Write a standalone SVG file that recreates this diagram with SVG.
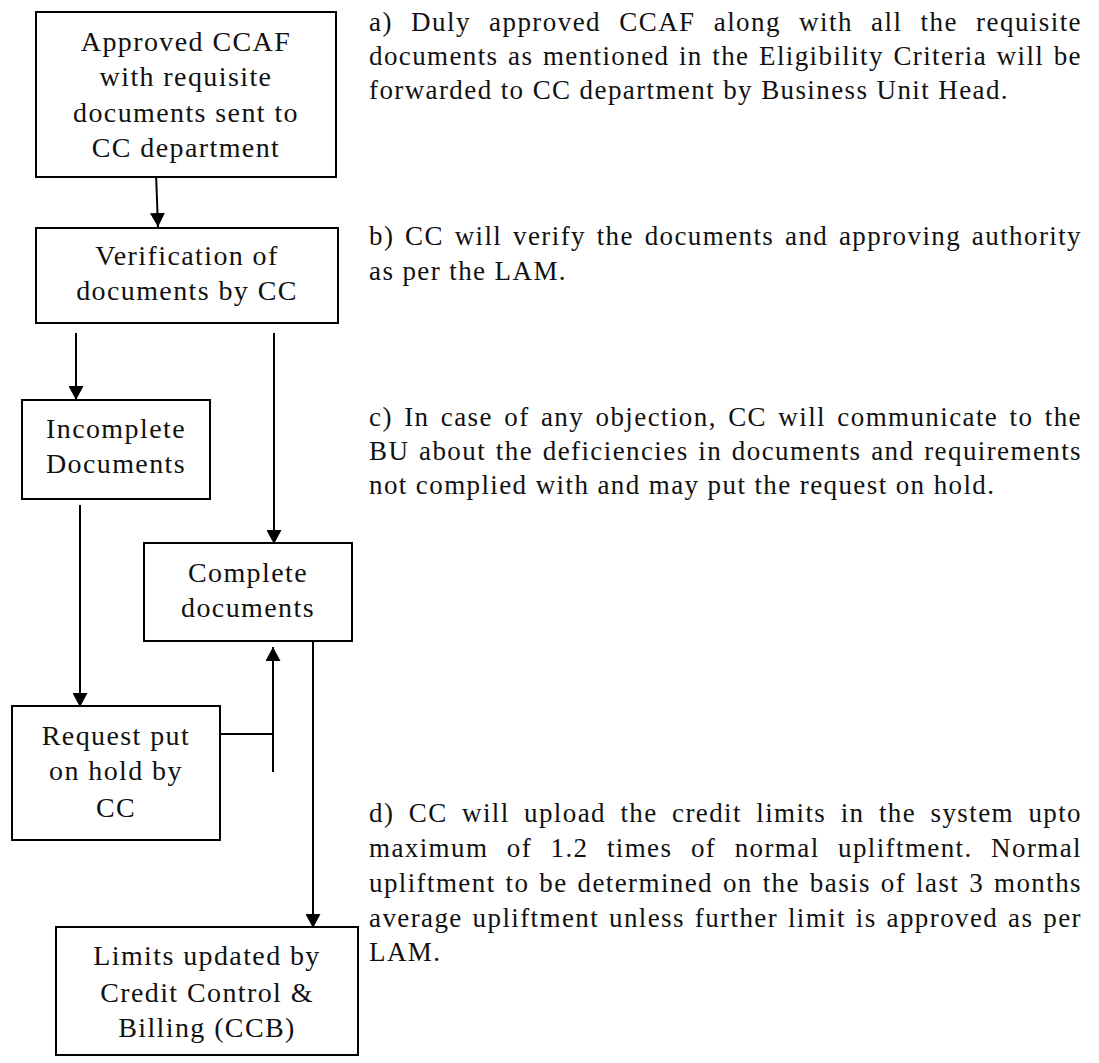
<svg xmlns="http://www.w3.org/2000/svg" width="1099" height="1063" viewBox="0 0 1099 1063">
<style>
  .box { fill: #fff; stroke: #000; stroke-width: 2; }
  .bt { font-family: "Liberation Serif", "Times New Roman", serif; font-size: 28px; letter-spacing: 1.4px; text-anchor: middle; fill: #111; }
  .pt { font-family: "Liberation Serif", "Times New Roman", serif; font-size: 27px; letter-spacing: 1.4px; fill: #111; }
  .conn { stroke: #000; stroke-width: 2; fill: none; }
</style>
<defs>
  <marker id="arrow" markerUnits="userSpaceOnUse" markerWidth="15" markerHeight="15" refX="14" refY="7.5" orient="auto">
    <path d="M0,0 L14,7.5 L0,15 z" fill="#000"/>
  </marker>
</defs>
<rect width="1099" height="1063" fill="#fff"/>

<g id="connectors">
  <line class="conn" x1="156" y1="173" x2="158" y2="227" marker-end="url(#arrow)"/>
  <line class="conn" x1="76" y1="333" x2="76" y2="400" marker-end="url(#arrow)"/>
  <line class="conn" x1="274" y1="333" x2="274" y2="544" marker-end="url(#arrow)"/>
  <line class="conn" x1="80" y1="505" x2="80" y2="707" marker-end="url(#arrow)"/>
  <line class="conn" x1="313" y1="641" x2="313" y2="928" marker-end="url(#arrow)"/>
  <line class="conn" x1="273" y1="772" x2="273" y2="647" marker-end="url(#arrow)"/>
  <line class="conn" x1="220" y1="734" x2="273" y2="734"/>
</g>

<g id="node-approved">
  <rect class="box" x="36" y="12" width="300" height="165"/>
  <text class="bt" x="186" y="51">Approved CCAF</text>
  <text class="bt" x="186" y="86">with requisite</text>
  <text class="bt" x="186" y="122">documents sent to</text>
  <text class="bt" x="186" y="157">CC department</text>
</g>

<g id="node-verification">
  <rect class="box" x="36" y="228" width="302" height="95"/>
  <text class="bt" x="187" y="265">Verification of</text>
  <text class="bt" x="187" y="300">documents by CC</text>
</g>

<g id="node-incomplete">
  <rect class="box" x="22" y="400" width="188" height="99"/>
  <text class="bt" x="116" y="438">Incomplete</text>
  <text class="bt" x="116" y="473">Documents</text>
</g>

<g id="node-complete">
  <rect class="box" x="144" y="543" width="208" height="98"/>
  <text class="bt" x="248" y="582">Complete</text>
  <text class="bt" x="248" y="617">documents</text>
</g>

<g id="node-hold">
  <rect class="box" x="12" y="706" width="208" height="134"/>
  <text class="bt" x="116" y="745">Request put</text>
  <text class="bt" x="116" y="780">on hold by</text>
  <text class="bt" x="116" y="817">CC</text>
</g>

<g id="node-limits">
  <rect class="box" x="56" y="927" width="302" height="128"/>
  <text class="bt" x="207" y="965">Limits updated by</text>
  <text class="bt" x="207" y="1002">Credit Control &amp;</text>
  <text class="bt" x="207" y="1037">Billing (CCB)</text>
</g>

<g id="notes">
  <text class="pt" x="369" y="31" word-spacing="10" textLength="713" lengthAdjust="spacing">a) Duly approved CCAF along with all the requisite</text>
  <text class="pt" x="369" y="65" word-spacing="1.4" textLength="713" lengthAdjust="spacing">documents as mentioned in the Eligibility Criteria will be</text>
  <text class="pt" x="369" y="99">forwarded to CC department by Business Unit Head.</text>

  <text class="pt" x="369" y="245" word-spacing="2.6" textLength="713" lengthAdjust="spacing">b) CC will verify the documents and approving authority</text>
  <text class="pt" x="369" y="280">as per the LAM.</text>

  <text class="pt" x="369" y="426" word-spacing="3.2" textLength="713" lengthAdjust="spacing">c) In case of any objection, CC will communicate to the</text>
  <text class="pt" x="369" y="460" word-spacing="1.6" textLength="713" lengthAdjust="spacing">BU about the deficiencies in documents and requirements</text>
  <text class="pt" x="369" y="494">not complied with and may put the request on hold.</text>

  <text class="pt" x="369" y="822" word-spacing="6.3" textLength="713" lengthAdjust="spacing">d) CC will upload the credit limits in the system upto</text>
  <text class="pt" x="369" y="857" word-spacing="10.3" textLength="713" lengthAdjust="spacing">maximum of 1.2 times of normal upliftment. Normal</text>
  <text class="pt" x="369" y="892" word-spacing="1.8" textLength="713" lengthAdjust="spacing">upliftment to be determined on the basis of last 3 months</text>
  <text class="pt" x="369" y="927" word-spacing="1.75" textLength="713" lengthAdjust="spacing">average upliftment unless further limit is approved as per</text>
  <text class="pt" x="369" y="961">LAM.</text>
</g>
</svg>
